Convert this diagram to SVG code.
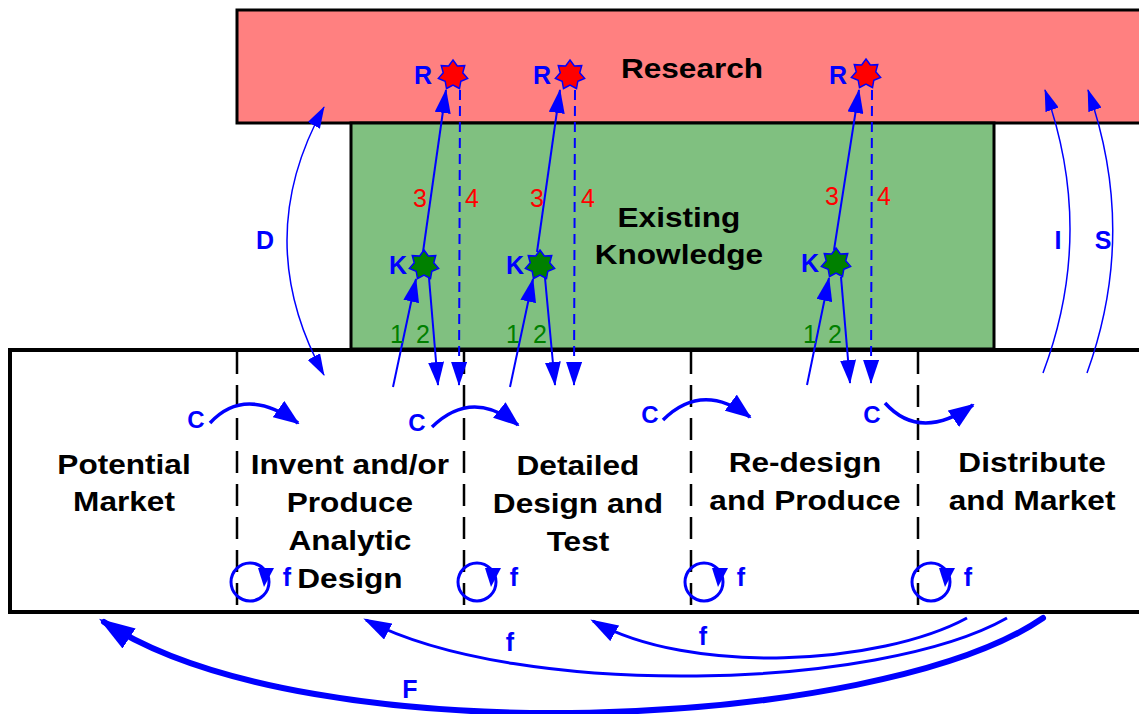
<svg xmlns="http://www.w3.org/2000/svg" width="1139" height="714" viewBox="0 0 1139 714">
<style>
.big{font-family:"Liberation Sans",Arial,sans-serif;font-weight:bold;font-size:27px;fill:#000;text-anchor:middle}
.lbl{font-family:"Liberation Sans",Arial,sans-serif;font-weight:bold;font-size:25px;fill:#0000FF;text-anchor:middle}
.clbl{font-family:"Liberation Sans",Arial,sans-serif;font-weight:bold;font-size:24px;fill:#0000FF;text-anchor:middle}
.num{font-family:"Liberation Sans",Arial,sans-serif;font-size:25px;text-anchor:middle}
.red{fill:#FF0000}.grn{fill:#008000}
.ln{fill:none;stroke:#0000FF;stroke-width:2}
.dash{fill:none;stroke:#0000FF;stroke-width:2;stroke-dasharray:10 6}
.thin{fill:none;stroke:#0000FF;stroke-width:1.5}
.carc{fill:none;stroke:#0000FF;stroke-width:3.5}
.loop{fill:none;stroke:#0000FF;stroke-width:3}
.div{stroke:#000;stroke-width:2.5;stroke-dasharray:22 11}
.star{stroke:#0000FF;stroke-width:1.5}
</style>
<defs>
<marker id="ah" viewBox="0 0 24 16" refX="23" refY="8" markerWidth="24" markerHeight="16" markerUnits="userSpaceOnUse" orient="auto"><path d="M0,0 L24,8 L0,16 z" fill="#0000FF"/></marker>
<marker id="aht" viewBox="0 0 22 14" refX="21" refY="7" markerWidth="22" markerHeight="14" markerUnits="userSpaceOnUse" orient="auto-start-reverse"><path d="M0,0 L22,7 L0,14 z" fill="#0000FF"/></marker>
<marker id="ahc" viewBox="0 0 26 20" refX="24" refY="10" markerWidth="26" markerHeight="20" markerUnits="userSpaceOnUse" orient="auto"><path d="M0,0 L26,10 L0,20 z" fill="#0000FF"/></marker>
<marker id="ahf" viewBox="0 0 28 18" refX="25" refY="9" markerWidth="28" markerHeight="18" markerUnits="userSpaceOnUse" orient="auto"><path d="M0,0 L28,9 L0,18 z" fill="#0000FF"/></marker>
<marker id="ahF" viewBox="0 0 36 24" refX="30" refY="12" markerWidth="36" markerHeight="24" markerUnits="userSpaceOnUse" orient="auto"><path d="M0,0 L36,12 L0,24 z" fill="#0000FF"/></marker>
<path id="st7" d="M0,-15 L4.34,-9.01 L11.73,-9.35 L9.75,-2.23 L14.62,3.34 L7.82,6.23 L6.51,13.52 L0,10 L-6.51,13.52 L-7.82,6.23 L-14.62,3.34 L-9.75,-2.23 L-11.73,-9.35 L-4.34,-9.01 Z"/>
</defs>
<rect width="1139" height="714" fill="#FFFFFF"/>

<g id="research">
<rect x="237" y="10" width="920" height="113" fill="#FF8080" stroke="#000" stroke-width="3"/>
<text class="big" transform="scale(1.17,1)" x="591.5" y="78">Research</text>
</g>
<g id="knowledge">
<rect x="351" y="123" width="643" height="226" fill="#80C080" stroke="#000" stroke-width="3"/>
<text class="big" transform="scale(1.17,1)" x="580.3" y="227">Existing</text>
<text class="big" transform="scale(1.17,1)" x="580.3" y="264">Knowledge</text>
</g>
<g id="lifecycle">
<rect x="10" y="350" width="1150" height="262" fill="none" stroke="#000" stroke-width="4"/>
<line class="div" x1="237" y1="352" x2="237" y2="606"/>
<line class="div" x1="464" y1="352" x2="464" y2="606"/>
<line class="div" x1="691" y1="352" x2="691" y2="606"/>
<line class="div" x1="918" y1="352" x2="918" y2="606"/>
</g>
<g id="stage-market">
<text class="big" transform="scale(1.17,1)" x="106" y="474">Potential</text>
<text class="big" transform="scale(1.17,1)" x="106" y="511">Market</text>
</g>
<g id="stage-invent">
<text class="big" transform="scale(1.17,1)" x="299.1" y="474">Invent and/or</text>
<text class="big" transform="scale(1.17,1)" x="299.1" y="512">Produce</text>
<text class="big" transform="scale(1.17,1)" x="299.1" y="550">Analytic</text>
<text class="big" transform="scale(1.17,1)" x="299.1" y="588">Design</text>
</g>
<g id="stage-detailed">
<text class="big" transform="scale(1.17,1)" x="494" y="475">Detailed</text>
<text class="big" transform="scale(1.17,1)" x="494" y="513">Design and</text>
<text class="big" transform="scale(1.17,1)" x="494" y="551">Test</text>
</g>
<g id="stage-redesign">
<text class="big" transform="scale(1.17,1)" x="688" y="472">Re-design</text>
<text class="big" transform="scale(1.17,1)" x="688" y="510">and Produce</text>
</g>
<g id="stage-distribute">
<text class="big" transform="scale(1.17,1)" x="882.1" y="472">Distribute</text>
<text class="big" transform="scale(1.17,1)" x="882.1" y="510">and Market</text>
</g>

<g id="connectors">
<line class="ln" x1="423" y1="252" x2="446" y2="90" marker-end="url(#ah)"/>
<line class="ln" x1="537" y1="252" x2="560" y2="90" marker-end="url(#ah)"/>
<line class="ln" x1="834" y1="250" x2="859" y2="90" marker-end="url(#ah)"/>
<line class="dash" x1="460" y1="90" x2="459" y2="385" marker-end="url(#ah)"/>
<line class="dash" x1="575" y1="90" x2="574" y2="385" marker-end="url(#ah)"/>
<line class="dash" x1="872" y1="90" x2="871" y2="383" marker-end="url(#ah)"/>
<line class="ln" x1="393" y1="387" x2="416" y2="279" marker-end="url(#ah)"/>
<line class="ln" x1="510" y1="387" x2="533" y2="279" marker-end="url(#ah)"/>
<line class="ln" x1="807" y1="385" x2="829" y2="278" marker-end="url(#ah)"/>
<line class="ln" x1="429" y1="278" x2="438" y2="385" marker-end="url(#ah)"/>
<line class="ln" x1="545" y1="278" x2="555" y2="385" marker-end="url(#ah)"/>
<line class="ln" x1="841" y1="277" x2="850" y2="383" marker-end="url(#ah)"/>
<path class="thin" d="M324,375 Q250,240 324,107" marker-start="url(#aht)" marker-end="url(#aht)"/>
<path class="thin" d="M1043,373 Q1096,232 1045,90" marker-end="url(#aht)"/>
<path class="thin" d="M1087,373 Q1138,232 1088,90" marker-end="url(#aht)"/>
<path class="carc" d="M210,423 Q245,385 298,423" marker-end="url(#ahc)"/>
<path class="carc" d="M432,427 Q472,388 518,425" marker-end="url(#ahc)"/>
<path class="carc" d="M663,420 Q702,381 750,417" marker-end="url(#ahc)"/>
<path class="carc" d="M885,403 Q920,442 973,405" marker-end="url(#ahc)"/>
<circle class="loop" cx="250" cy="582" r="19"/>
<polygon points="258,568 274,568 264,587" fill="#0000FF"/>
<circle class="loop" cx="477" cy="582" r="19"/>
<polygon points="485,568 501,568 491,587" fill="#0000FF"/>
<circle class="loop" cx="704" cy="582" r="19"/>
<polygon points="712,568 728,568 718,587" fill="#0000FF"/>
<circle class="loop" cx="931" cy="582" r="19"/>
<polygon points="939,568 955,568 945,587" fill="#0000FF"/>
<path class="loop" d="M967,618 C880,665 690,676 593,621" marker-end="url(#ahf)"/>
<path class="loop" d="M1007,618 C880,690 520,700 366,620" marker-end="url(#ahf)"/>
<path fill="none" stroke="#0000FF" stroke-width="6" stroke-linecap="round" d="M1043,618 C880,730 310,757 104,622" marker-end="url(#ahF)"/>
</g>

<g id="stars">
<g id="R1"><use href="#st7" x="453" y="75" fill="#FF0000" class="star"/></g>
<g id="R2"><use href="#st7" x="570" y="75" fill="#FF0000" class="star"/></g>
<g id="R3"><use href="#st7" x="866" y="74" fill="#FF0000" class="star"/></g>
<g id="K1"><use href="#st7" x="424" y="265" fill="#008000" class="star"/></g>
<g id="K2"><use href="#st7" x="540" y="265" fill="#008000" class="star"/></g>
<g id="K3"><use href="#st7" x="836" y="263" fill="#008000" class="star"/></g>
</g>

<g id="labels">
<text class="lbl" x="423" y="84">R</text>
<text class="lbl" x="542" y="84">R</text>
<text class="lbl" x="838" y="84">R</text>
<text class="lbl" x="398" y="274">K</text>
<text class="lbl" x="515" y="274">K</text>
<text class="lbl" x="810" y="272">K</text>
<text class="num red" x="420" y="207">3</text>
<text class="num red" x="472" y="207">4</text>
<text class="num red" x="537" y="207">3</text>
<text class="num red" x="588" y="207">4</text>
<text class="num red" x="832" y="205">3</text>
<text class="num red" x="884" y="205">4</text>
<text class="num grn" x="397" y="343">1</text>
<text class="num grn" x="423" y="343">2</text>
<text class="num grn" x="513" y="343">1</text>
<text class="num grn" x="540" y="343">2</text>
<text class="num grn" x="810" y="343">1</text>
<text class="num grn" x="835" y="343">2</text>
<text class="clbl" x="196" y="428">C</text>
<text class="clbl" x="417" y="431">C</text>
<text class="clbl" x="650" y="423">C</text>
<text class="clbl" x="872" y="423">C</text>
<text class="lbl" x="265" y="249">D</text>
<text class="lbl" x="1058" y="249">I</text>
<text class="lbl" x="1103" y="249">S</text>
<text class="lbl" x="287" y="586">f</text>
<text class="lbl" x="514" y="586">f</text>
<text class="lbl" x="741" y="586">f</text>
<text class="lbl" x="968" y="586">f</text>
<text class="lbl" x="703" y="645">f</text>
<text class="lbl" x="510" y="651">f</text>
<text class="lbl" x="410" y="698">F</text>
</g>
</svg>
